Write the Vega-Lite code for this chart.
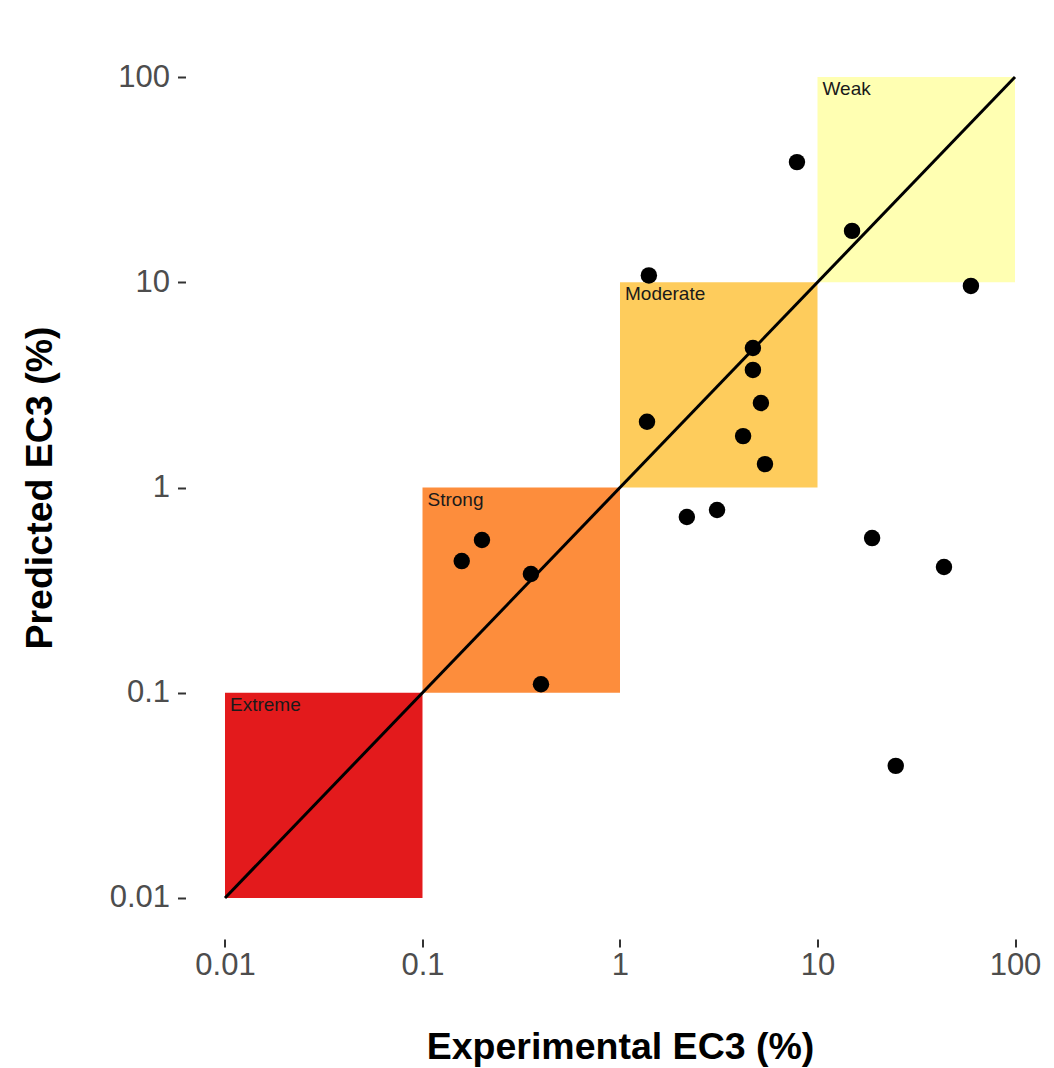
{
  "$schema": "https://vega.github.io/schema/vega-lite/v6.json",
  "width": 869,
  "height": 903,
  "autosize": {"type": "none"},
  "padding": {"left": 185.5, "top": 36, "right": 0, "bottom": 129},
  "background": "white",
  "config": {
    "view": {"stroke": null},
    "font": "Liberation Sans",
    "axis": {
      "grid": false,
      "domain": false,
      "ticks": true,
      "tickColor": "#333333",
      "tickWidth": 2,
      "tickSize": 8,
      "labelFont": "Liberation Sans",
      "labelFontSize": 31,
      "labelColor": "#4D4D4D",
      "titleFont": "Liberation Sans",
      "titleFontSize": 37.5,
      "titleFontWeight": "bold",
      "titleColor": "#000000"
    }
  },
  "datasets": {
    "zones": [
      {"cls": "Extreme", "x1": 0.01, "x2": 0.1, "y1": 0.01, "y2": 0.1},
      {"cls": "Strong", "x1": 0.1, "x2": 1, "y1": 0.1, "y2": 1},
      {"cls": "Moderate", "x1": 1, "x2": 10, "y1": 1, "y2": 10},
      {"cls": "Weak", "x1": 10, "x2": 100, "y1": 10, "y2": 100}
    ],
    "diag": [
      {"exp": 0.01, "pred": 0.01},
      {"exp": 100, "pred": 100}
    ],
    "pts": [
      {"exp": 7.87, "pred": 38.5},
      {"exp": 14.96, "pred": 17.8},
      {"exp": 59.8, "pred": 9.6},
      {"exp": 1.40, "pred": 10.8},
      {"exp": 4.71, "pred": 4.78},
      {"exp": 4.71, "pred": 3.74},
      {"exp": 5.17, "pred": 2.58},
      {"exp": 1.37, "pred": 2.09},
      {"exp": 4.20, "pred": 1.78},
      {"exp": 5.42, "pred": 1.30},
      {"exp": 2.18, "pred": 0.718},
      {"exp": 3.10, "pred": 0.777},
      {"exp": 18.9, "pred": 0.567},
      {"exp": 43.7, "pred": 0.41},
      {"exp": 0.20, "pred": 0.555},
      {"exp": 0.158, "pred": 0.438},
      {"exp": 0.354, "pred": 0.379},
      {"exp": 0.398, "pred": 0.110},
      {"exp": 24.9, "pred": 0.044}
    ]
  },
  "layer": [
    {
      "data": {"name": "zones"},
      "mark": {"type": "rect"},
      "encoding": {
        "x": {
          "field": "x1", "type": "quantitative",
          "scale": {"type": "log", "domain": [0.0063096, 158.489], "nice": false, "zero": false},
          "axis": {"values": [0.01, 0.1, 1, 10, 100], "format": "~g", "title": "Experimental EC3 (%)", "labelPadding": 3, "titlePadding": 48, "labelFlush": false}
        },
        "x2": {"field": "x2"},
        "y": {
          "field": "y1", "type": "quantitative",
          "scale": {"type": "log", "domain": [0.0063096, 158.489], "nice": false, "zero": false},
          "axis": {"values": [0.01, 0.1, 1, 10, 100], "format": "~g", "title": "Predicted EC3 (%)", "labelPadding": 8, "titlePadding": 50, "labelFlush": false}
        },
        "y2": {"field": "y2"},
        "color": {
          "field": "cls", "type": "nominal", "legend": null,
          "scale": {"domain": ["Extreme", "Strong", "Moderate", "Weak"], "range": ["#E31A1C", "#FD8D3C", "#FECC5C", "#FFFFB2"]}
        }
      }
    },
    {
      "data": {"name": "zones"},
      "mark": {"type": "text", "align": "left", "baseline": "top", "dx": 5, "dy": 3, "fontSize": 19, "color": "#1a1a1a", "font": "Liberation Sans"},
      "encoding": {
        "x": {"field": "x1", "type": "quantitative"},
        "y": {"field": "y2", "type": "quantitative"},
        "text": {"field": "cls"}
      }
    },
    {
      "data": {"name": "diag"},
      "mark": {"type": "line", "color": "#000000", "strokeWidth": 3},
      "encoding": {
        "x": {"field": "exp", "type": "quantitative"},
        "y": {"field": "pred", "type": "quantitative"}
      }
    },
    {
      "data": {"name": "pts"},
      "mark": {"type": "point", "filled": true, "shape": "circle", "color": "#000000", "opacity": 1, "size": 270},
      "encoding": {
        "x": {"field": "exp", "type": "quantitative"},
        "y": {"field": "pred", "type": "quantitative"}
      }
    }
  ]
}
